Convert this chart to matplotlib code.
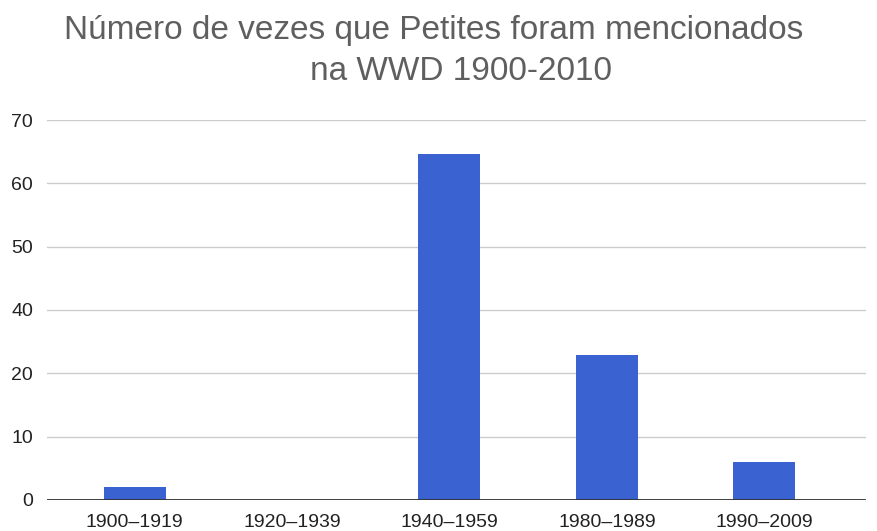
import matplotlib.pyplot as plt
import numpy as np

# --- data ---
periods = ["1900–1919", "1920–1939", "1940–1959", "1980–1989", "1990–2009"]
mentions = [2, 0, 64.6, 25.7, 6]
ytick_vals = [0, 10, 20, 40, 50, 60, 70]

title_line1 = "Número de vezes que Petites foram mencionados"
title_line2 = "na WWD 1900-2010"

BAR_COLOR = "#3a63d1"


# axis in the reference skips 30: the 20-40 band takes a single grid step
def fwd(v):
    v = np.asarray(v, dtype=float)
    return np.where(v <= 20, v, np.where(v <= 40, 20 + (v - 20) / 2, v - 10))


def inv(p):
    p = np.asarray(p, dtype=float)
    return np.where(p <= 20, p, np.where(p <= 30, 20 + (p - 20) * 2, p + 10))


plt.rcParams['font.family'] = ['Liberation Sans', 'DejaVu Sans']

fig = plt.figure(figsize=(8.78, 5.31), dpi=100)
ax = fig.add_axes([0.0535, 0.0584, 0.9325, 0.7156])

x = np.arange(len(periods))
ax.bar(x, mentions, width=0.394, color=BAR_COLOR, zorder=3)

ax.set_yscale('function', functions=(fwd, inv))
ax.set_ylim(0, 70)
ax.set_yticks(ytick_vals)
ax.set_yticklabels([str(v) for v in ytick_vals])
ax.set_xlim(-0.558, 4.645)
ax.set_xticks(x)
ax.set_xticklabels(periods)

ax.yaxis.grid(True, color="#cccccc", lw=1, zorder=0)
ax.axhline(0, color="#333333", lw=1.3, zorder=4)
for s in ax.spines.values():
    s.set_visible(False)
ax.tick_params(axis='both', length=0, labelsize=14, colors="#222222")
ax.tick_params(axis='y', pad=10)
ax.tick_params(axis='x', pad=10)

fig.text(434 / 878, 1 - 30 / 531, title_line1, ha='center', va='center',
         fontsize=24, color="#5f5f5f")
fig.text(461 / 878, 1 - 71 / 531, title_line2, ha='center', va='center',
         fontsize=24, color="#5f5f5f")

plt.savefig("out.png", dpi=100)
plt.close()
